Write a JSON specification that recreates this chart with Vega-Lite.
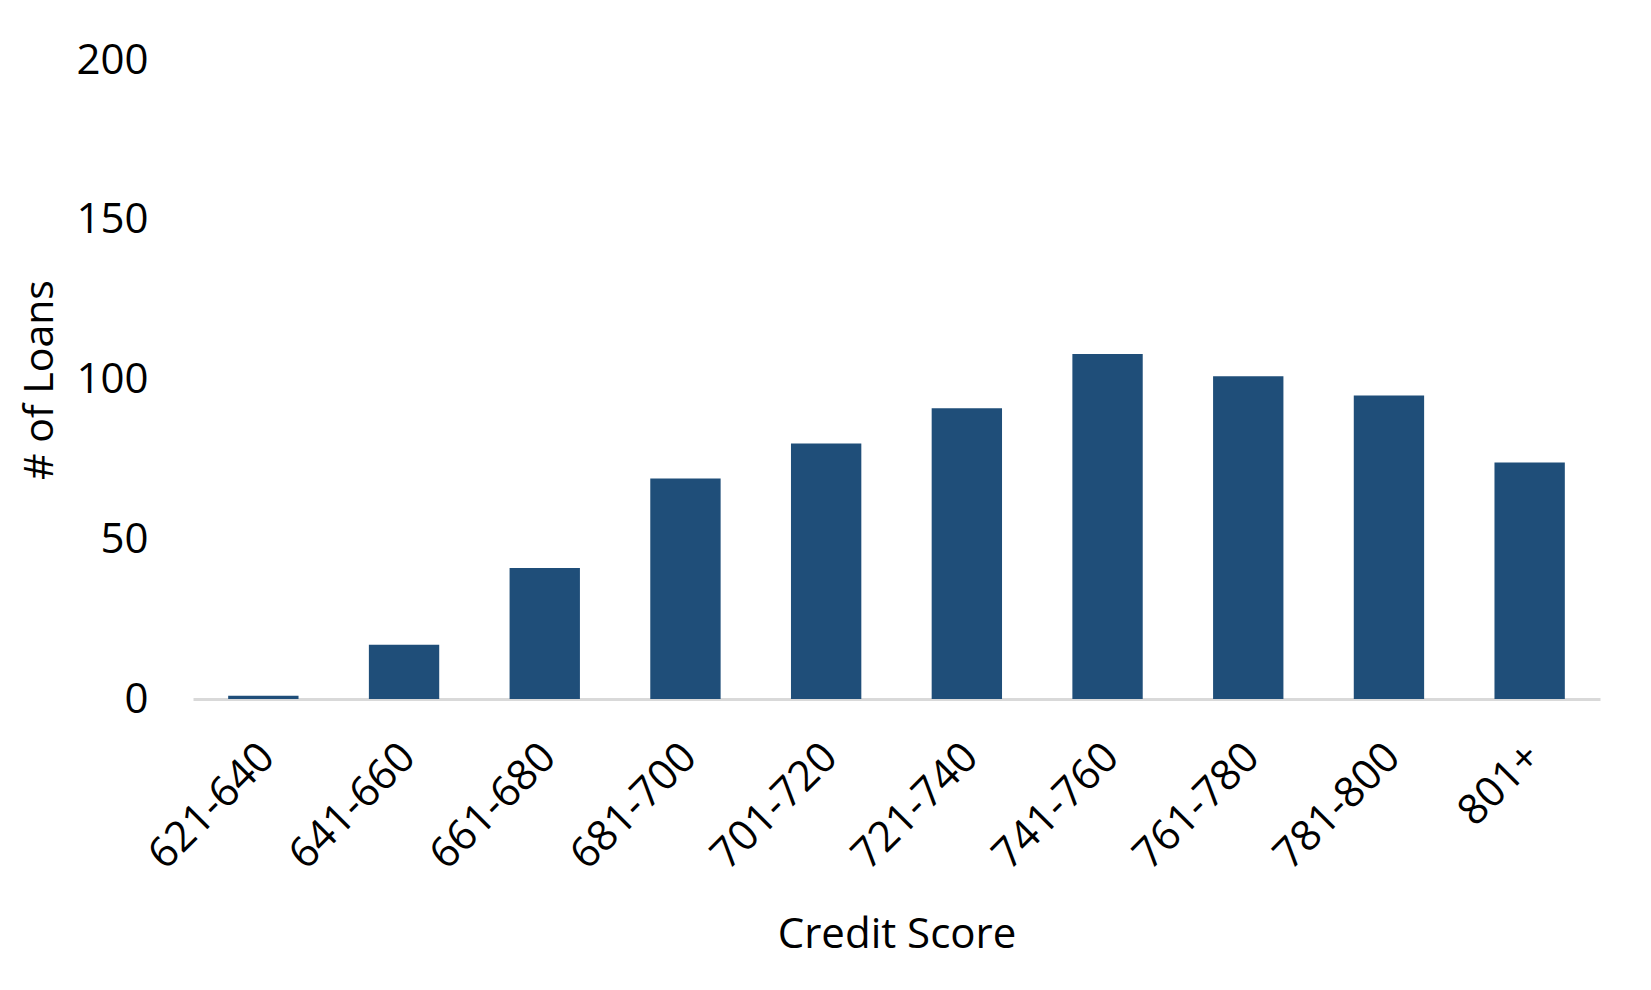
{
  "$schema": "https://vega.github.io/schema/vega-lite/v6.json",
  "width": 1407,
  "height": 639,
  "autosize": {"type": "none"},
  "padding": {"left": 193, "top": 60, "right": 51, "bottom": 291},
  "background": "white",
  "config": {"view": {"stroke": null}, "font": "Open Sans"},
  "data": {"values": [
    {"score": "621-640", "loans": 1},
    {"score": "641-660", "loans": 17},
    {"score": "661-680", "loans": 41},
    {"score": "681-700", "loans": 69},
    {"score": "701-720", "loans": 80},
    {"score": "721-740", "loans": 91},
    {"score": "741-760", "loans": 108},
    {"score": "761-780", "loans": 101},
    {"score": "781-800", "loans": 95},
    {"score": "801+", "loans": 74}
  ]},
  "mark": {"type": "bar", "color": "#1f4e79"},
  "encoding": {
    "x": {
      "field": "score", "type": "nominal", "sort": null,
      "scale": {"paddingInner": 0.5, "paddingOuter": 0.25},
      "axis": {
        "title": "Credit Score", "titleFontSize": 42, "titleFontWeight": "normal", "titleColor": "#000", "titlePadding": 38,
        "labelAngle": -45, "labelFontSize": 42, "labelColor": "#000", "labelPadding": 37, "labelOffset": -10,
        "ticks": false, "domainColor": "#d9d9d9", "domainWidth": 3
      }
    },
    "y": {
      "field": "loans", "type": "quantitative",
      "scale": {"domain": [0, 200]},
      "axis": {
        "title": "# of Loans", "titleFontSize": 41, "titleFontWeight": "normal", "titleColor": "#000", "titlePadding": 14,
        "values": [0, 50, 100, 150, 200], "labelFontSize": 42, "labelColor": "#000", "labelPadding": 45,
        "ticks": false, "domain": false, "grid": false
      }
    }
  }
}
